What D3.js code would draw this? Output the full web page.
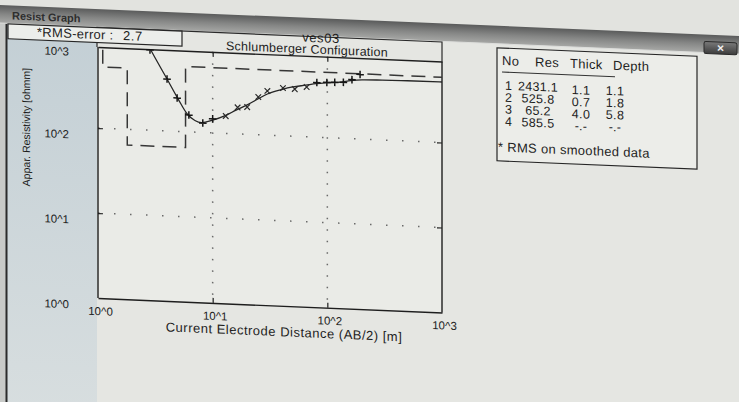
<!DOCTYPE html>
<html>
<head>
<meta charset="utf-8">
<script src="https://cdn.jsdelivr.net/npm/d3@7"></script>
<style>
  html, body { margin: 0; padding: 0; background: #e2e3df; }
  svg { display: block; font-family: "Liberation Sans", Arial, sans-serif; }
</style>
</head>
<body>
<svg id="chart" width="739" height="402"></svg>
<script>
// VES 03 — Schlumberger sounding, apparent resistivity against AB/2

// axis ticks (log decades) and their labels
const xTicks = [1, 10, 100, 1000];
const yTicks = [1, 10, 100, 1000];
const tickLabels = ["10^0", "10^1", "10^2", "10^3"];

// field readings drawn with "+"
const obsAB2 = [2.84, 4, 4.9, 6.2, 8.2, 10, 81, 99, 116, 138, 164, 193];
const obsRho = [880, 408, 247, 158, 129, 146, 440, 446, 452, 456, 495, 575];

// smoothed readings drawn with "x"
const smAB2 = [13, 16.5, 20, 25, 30, 41, 52, 66];
const smRho = [160, 205, 209, 278, 331, 365, 359, 385];

// computed response of the layered model
const calcAB2 = [1, 1.5, 2, 2.5, 3, 4, 5, 6, 7, 8, 10, 13, 16, 20, 25, 30, 40, 50, 65, 80, 100, 130, 160, 200, 300, 500, 1000];
const calcRho = [2400, 2300, 1900, 1250, 800, 408, 240, 162, 137, 130, 141, 163, 190, 222, 265, 305, 350, 380, 405, 427, 443, 458, 482, 498, 506, 512, 515];

// interpreted layers
const layerNo = [1, 2, 3, 4];
const layerRes = [2431.1, 525.8, 65.2, 585.5];
const layerThick = [1.1, 0.7, 4.0, null];
const layerDepth = [1.1, 1.8, 5.8, null];

const rmsError = 2.7;
const sounding = "ves03";
const arrayName = "Schlumberger Configuration";

const svg = d3.select("#chart");
const defs = svg.append("defs");
const ink = "#1d1d1d";

// gradients for window chrome
const band = defs.append("linearGradient").attr("id", "band").attr("x1", 0).attr("y1", 0).attr("x2", 0).attr("y2", 1);
band.append("stop").attr("offset", 0).attr("stop-color", "#5a5b5b");
band.append("stop").attr("offset", 0.5).attr("stop-color", "#858685");
band.append("stop").attr("offset", 1).attr("stop-color", "#a7a8a6");

const leftPanel = defs.append("linearGradient").attr("id", "leftPanel").attr("x1", 0).attr("y1", 0).attr("x2", 0).attr("y2", 1);
leftPanel.append("stop").attr("offset", 0).attr("stop-color", "#c3cfd5");
leftPanel.append("stop").attr("offset", 1).attr("stop-color", "#d9dfe0");

const btn = defs.append("linearGradient").attr("id", "btn").attr("x1", 0).attr("y1", 0).attr("x2", 0).attr("y2", 1);
btn.append("stop").attr("offset", 0).attr("stop-color", "#7a7a7a");
btn.append("stop").attr("offset", 1).attr("stop-color", "#3c3c3c");

// page slightly sheared, as the window is seen at an angle
const k = 0.042, x0 = 97;
const root = svg.append("g").attr("transform", `matrix(1,${k},0,1,0,${-k * x0})`);

// window body
root.append("rect").attr("x", -10).attr("y", 26).attr("width", 770).attr("height", 420).attr("fill", "#e5e6e2");
root.append("rect").attr("x", 7).attr("y", 26).attr("width", 90).attr("height", 420).attr("fill", "url(#leftPanel)");
root.append("rect").attr("x", -10).attr("y", 26).attr("width", 17).attr("height", 420).attr("fill", "#c8cac8");
root.append("line").attr("x1", 6.5).attr("x2", 6.5).attr("y1", 27).attr("y2", 420).attr("stroke", "#2b2b2b").attr("stroke-width", 2);

// title bar
root.append("rect").attr("x", -10).attr("y", 9).attr("width", 770).attr("height", 18).attr("fill", "url(#band)");
root.append("line").attr("x1", -10).attr("x2", 760).attr("y1", 27).attr("y2", 27).attr("stroke", "#dcdddb").attr("stroke-width", 1);
root.append("text").attr("x", 12).attr("y", 23).attr("font-size", 11).attr("font-weight", "bold")
  .attr("fill", "#2e2e2e").text("Resist Graph");

// close button
root.append("rect").attr("x", 704).attr("y", 16).attr("width", 33).attr("height", 12).attr("rx", 2)
  .attr("fill", "url(#btn)").attr("stroke", "#2a2a2a").attr("stroke-width", 1);
root.append("text").attr("x", 720.5).attr("y", 26).attr("text-anchor", "middle").attr("font-size", 12)
  .attr("font-weight", "bold").attr("fill", "#f2f2f2").text("×");

// plot panel frame
const W = { left: 98, right: 442, top: 47, bottom: 298 };
root.append("path").attr("d", `M${W.left - 1},${W.top} V27.5 H${W.right} V${W.top}`)
  .attr("fill", "none").attr("stroke", "#2b2b2b").attr("stroke-width", 1.2);

const x = d3.scaleLog().domain([1, 1000]).range([W.left, W.right]);
// 85 px per decade, the frame closes a little below 10^3
const y = d3.scaleLog().domain([1, 1000]).range([W.bottom, W.bottom - 3 * 85]);

const plot = root.append("g");
plot.append("rect").attr("x", W.left).attr("y", W.top).attr("width", W.right - W.left).attr("height", W.bottom - W.top)
  .attr("fill", "#eaebe7");

defs.append("clipPath").attr("id", "plotClip").append("rect")
  .attr("x", W.left).attr("y", W.top).attr("width", W.right - W.left).attr("height", W.bottom - W.top);

// dotted grid at the inner decades
const gridX = xTicks.slice(1, -1), gridY = yTicks.slice(1, -1);
plot.append("g").selectAll("line").data(gridX).join("line")
  .attr("x1", d => x(d)).attr("x2", d => x(d)).attr("y1", W.top).attr("y2", W.bottom)
  .attr("stroke", "#6a6a6a").attr("stroke-width", 1.5).attr("stroke-dasharray", "1.5,10");
plot.append("g").selectAll("line").data(gridY).join("line")
  .attr("y1", d => y(d)).attr("y2", d => y(d)).attr("x1", W.left).attr("x2", W.right)
  .attr("stroke", "#6a6a6a").attr("stroke-width", 1.5).attr("stroke-dasharray", "1.5,14.5");

// axes with inward ticks
const inner = d => d > 1 && d < 1000;
const axB = plot.append("g").attr("transform", `translate(0,${W.bottom})`)
  .call(d3.axisBottom(x).tickValues(xTicks).tickFormat((d, i) => tickLabels[i]).tickSizeInner(-5).tickSizeOuter(0));
const axL = plot.append("g").attr("transform", `translate(${W.left},0)`)
  .call(d3.axisLeft(y).tickValues(yTicks).tickFormat((d, i) => tickLabels[i]).tickSizeInner(-5).tickSizeOuter(0));
const axT = plot.append("g").attr("transform", `translate(0,${W.top})`)
  .call(d3.axisTop(x).tickValues(xTicks.filter(inner)).tickFormat("").tickSizeInner(-5).tickSizeOuter(0));
const axR = plot.append("g").attr("transform", `translate(${W.right},0)`)
  .call(d3.axisRight(y).tickValues(yTicks.filter(inner)).tickFormat("").tickSizeInner(-5).tickSizeOuter(0));

// the side axis lines run only over the frame
axL.select(".domain").attr("d", `M0,${W.bottom}V${W.top}`);
axR.select(".domain").attr("d", `M0,${W.bottom}V${W.top}`);
axL.selectAll(".tick").filter(d => !inner(d)).select("line").remove();
axB.selectAll(".tick").filter(d => !inner(d)).select("line").remove();

[axB, axL, axT, axR].forEach(a => {
  a.select(".domain").attr("stroke", "#1e1e1e").attr("stroke-width", 1.4);
  a.selectAll(".tick line").attr("stroke", "#1e1e1e").attr("stroke-width", 1.2);
});
axB.selectAll("text").attr("y", 13).attr("dy", "0.35em").attr("dx", 2)
  .attr("font-size", 11.5).attr("font-family", "Liberation Sans, Arial, sans-serif").attr("fill", ink);
axL.selectAll("text").attr("x", -29).attr("dy", d => d === 1000 ? "1.15em" : "0.95em")
  .attr("font-size", 11.5).attr("font-family", "Liberation Sans, Arial, sans-serif").attr("fill", ink);

// axis titles
root.append("text").attr("x", 284).attr("y", 328.5).attr("text-anchor", "middle").attr("font-size", 13)
  .attr("letter-spacing", 0.5).attr("fill", ink).text("Current Electrode Distance (AB/2) [m]");
root.append("text").attr("transform", "translate(30,130) rotate(-90)").attr("text-anchor", "middle")
  .attr("font-size", 10.5).attr("fill", ink).text("Appar. Resistivity [ohmm]");

// plot titles
root.append("text").attr("x", 321).attr("y", 33).attr("text-anchor", "middle").attr("font-size", 13)
  .attr("letter-spacing", 0.6).attr("fill", ink).text(sounding);
root.append("text").attr("x", 307).attr("y", 44.5).attr("text-anchor", "middle").attr("font-size", 12.5)
  .attr("letter-spacing", 0.25).attr("fill", ink).text(arrayName);

// data layer
const data = plot.append("g").attr("clip-path", "url(#plotClip)");

// layered model as a step line
const steps = [];
let upper = 1;
layerRes.forEach((r, i) => {
  const lower = layerDepth[i] == null ? 1000 : layerDepth[i];
  steps.push([upper, r], [lower, r]);
  upper = lower;
});
const line = d3.line().x(d => x(d[0])).y(d => y(d[1]));
data.append("path").attr("d", line(steps)).attr("fill", "none")
  .attr("stroke", "#363636").attr("stroke-width", 1.5).attr("stroke-dasharray", "14,8");

// computed curve
data.append("path")
  .attr("d", d3.line().x(d => x(d[0])).y(d => y(d[1])).curve(d3.curveMonotoneX)(calcAB2.map((a, i) => [a, calcRho[i]])))
  .attr("fill", "none").attr("stroke", "#262626").attr("stroke-width", 1.3);

// markers
const plus = (cx, cy, s) => `M${cx - s},${cy}H${cx + s}M${cx},${cy - s}V${cy + s}`;
const cross = (cx, cy, s) => `M${cx - s},${cy - s}L${cx + s},${cy + s}M${cx - s},${cy + s}L${cx + s},${cy - s}`;
data.append("g").selectAll("path").data(obsAB2.map((a, i) => [a, obsRho[i]])).join("path")
  .attr("d", d => plus(x(d[0]), y(d[1]), 3.8)).attr("stroke", "#161616").attr("stroke-width", 1.5);
data.append("g").selectAll("path").data(smAB2.map((a, i) => [a, smRho[i]])).join("path")
  .attr("d", d => cross(x(d[0]), y(d[1]), 2.8)).attr("stroke", "#2a2a2a").attr("stroke-width", 1.2);

// RMS box
root.append("rect").attr("x", 8).attr("y", 27.5).attr("width", 174).attr("height", 15)
  .attr("fill", "#eceeeb").attr("stroke", "#262626").attr("stroke-width", 1.2);
root.append("text").attr("x", 37).attr("y", 39).attr("font-size", 13).attr("letter-spacing", 0.3)
  .attr("fill", ink).text("*RMS-error :");
root.append("text").attr("x", 123).attr("y", 39).attr("font-size", 13).attr("letter-spacing", 0.6)
  .attr("fill", ink).text(rmsError.toFixed(1));

// layer table
const tbl = root.append("g").attr("fill", ink).attr("font-size", 12.5).attr("letter-spacing", 0.3);
tbl.append("rect").attr("x", 497).attr("y", 31).attr("width", 200).attr("height", 113)
  .attr("fill", "#ecede9").attr("stroke", "#262626").attr("stroke-width", 1.2);
const headers = [["No", 502], ["Res", 535], ["Thick", 570], ["Depth", 613]];
tbl.selectAll("text.h").data(headers).join("text").attr("class", "h")
  .attr("x", d => d[1]).attr("y", 48).attr("font-size", 13).text(d => d[0]);
tbl.append("line").attr("x1", 502).attr("x2", 615).attr("y1", 55).attr("y2", 55).attr("stroke", "#333").attr("stroke-width", 1.2);
const fmt1 = v => v == null ? "-.-" : v.toFixed(1);
const rowY = i => 72.5 + i * 12;
tbl.selectAll("text.no").data(layerNo).join("text").attr("class", "no")
  .attr("x", 505).attr("y", (d, i) => rowY(i)).text(d => d);
tbl.selectAll("text.res").data(layerRes).join("text").attr("class", "res")
  .attr("x", 538).attr("y", (d, i) => rowY(i)).attr("text-anchor", "middle").text(fmt1);
tbl.selectAll("text.th").data(layerThick).join("text").attr("class", "th")
  .attr("x", 581).attr("y", (d, i) => rowY(i) + 1.5).attr("text-anchor", "middle").text(fmt1);
tbl.selectAll("text.dp").data(layerDepth).join("text").attr("class", "dp")
  .attr("x", 615).attr("y", (d, i) => rowY(i) + 1).attr("text-anchor", "middle").text(fmt1);
tbl.append("text").attr("x", 498).attr("y", 134.5).attr("font-size", 13).text("* RMS on smoothed data");
</script>
</body>
</html>
